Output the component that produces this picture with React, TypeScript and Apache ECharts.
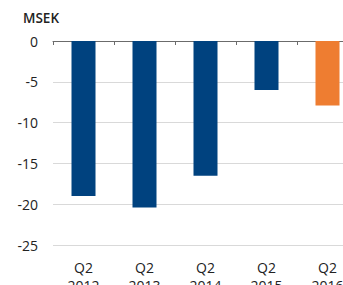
import React, { useEffect, useRef } from "react";
import * as echarts from "echarts";

const categories = ["Q2\n2012", "Q2\n2013", "Q2\n2014", "Q2\n2015", "Q2\n2016"];
const values = [-19.0, -20.4, -16.5, -6.0, -7.9];
const barColors = ["#00427f", "#00427f", "#00427f", "#00427f", "#ee7d31"];
const yTicks = [0, -5, -10, -15, -20, -25];

export default function App() {
  const ref = useRef<HTMLDivElement>(null);
  useEffect(() => {
    if (!ref.current) return;
    const chart = echarts.init(ref.current, null, { renderer: "svg" });
    const font = "'Open Sans', 'Noto Sans', sans-serif";
    chart.setOption({
      animation: false,
      textStyle: { fontFamily: font },
      graphic: [
        {
          type: "text",
          left: 23,
          top: 11,
          style: { text: "MSEK", font: `600 13.5px ${font}`, fill: "#222" },
        },
      ],
      grid: {
        left: 53,
        top: 41,
        width: 305,
        height: 204,
        containLabel: false,
        outerBoundsMode: "none",
      },
      xAxis: [
        {
          type: "category",
          data: categories,
          position: "bottom",
          axisLine: { show: false, onZero: false },
          axisTick: { show: false },
          axisLabel: { color: "#222", fontSize: 14, lineHeight: 18, margin: 13, fontFamily: font },
        },
        {
          type: "category",
          data: categories,
          position: "top",
          axisLine: { show: true, lineStyle: { color: "#6b6b6b", width: 1 } },
          axisTick: { show: true, inside: true, length: 4, lineStyle: { color: "#6b6b6b" } },
          axisLabel: { show: false },
        },
      ],
      yAxis: {
        type: "value",
        min: -25,
        max: 0,
        interval: 5,
        axisLine: { show: false },
        axisTick: { show: false },
        axisLabel: {
          color: "#222",
          fontSize: 14,
          margin: 15,
          fontFamily: font,
          formatter: (v: number) => (yTicks.includes(v) ? String(v) : ""),
        },
        splitLine: { lineStyle: { color: "#d9d9d9", width: 1 } },
      },
      series: [
        {
          type: "bar",
          xAxisIndex: 0,
          data: values.map((v, i) => ({ value: v, itemStyle: { color: barColors[i] } })),
          barWidth: 24,
        },
      ],
    });
    return () => chart.dispose();
  }, []);
  return <div ref={ref} style={{ width: 343, height: 285, position: "absolute", left: 0, top: 0 }} />;
}
